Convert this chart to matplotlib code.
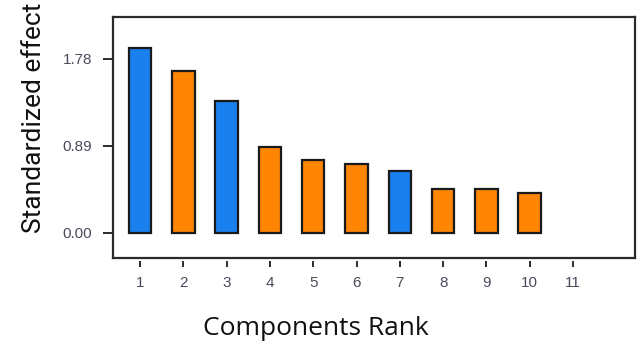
import matplotlib.pyplot as plt

# component ranks and their standardized effects
ranks = [1, 2, 3, 4, 5, 6, 7, 8, 9, 10]
effects = [1.89, 1.65, 1.35, 0.88, 0.75, 0.70, 0.63, 0.45, 0.45, 0.41]
groups = ["B", "A", "B", "A", "A", "A", "B", "A", "A", "A"]
xticks = list(range(1, 12))
yticks = [0.00, 0.89, 1.78]

palette = {"A": "#ff8505", "B": "#1a80ee"}

fig = plt.figure(figsize=(6.41, 3.45), dpi=100)
ax = fig.add_axes([0.1763, 0.2522, 0.8143, 0.6994])

ax.bar(ranks, effects, width=0.52, color=[palette[g] for g in groups],
       edgecolor="#1a1a1a", linewidth=1.6, zorder=2)

ax.set_xlim(0.376, 12.43)
ax.set_ylim(-0.256, 2.21)

for s in ax.spines.values():
    s.set_linewidth(1.6)
    s.set_color("#2a2a2a")

tick_font = {"family": "Liberation Sans", "size": 11}

# y axis
ax.set_yticks(yticks)
ax.set_yticklabels([f"{v:.2f}" for v in yticks], fontdict=tick_font)
ax.tick_params(axis="y", direction="out", length=7, width=1.4, pad=8,
               colors="#2a2a2a", labelcolor="#4a4a5c")

# x axis: ticks sit slightly below the frame
ax.set_xticks([])
sec = ax.secondary_xaxis(-0.013)
sec.set_xticks(xticks)
sec.set_xticklabels([str(v) for v in xticks], fontdict=tick_font)
sec.spines["bottom"].set_visible(False)
sec.tick_params(axis="x", direction="out", length=4.5, width=1.4, pad=6,
                colors="#2a2a2a", labelcolor="#4a4a5c")

fig.text(0.053, 0.659, "Standardized effect", rotation=90, ha="center",
         va="center", fontsize=19, family=["Roboto", "DejaVu Sans"],
         color="#111111")
fig.text(0.493, 0.047, "Components Rank", ha="center", va="center",
         fontsize=19, family=["Open Sans", "DejaVu Sans"], color="#111111")

fig.savefig("out.png", dpi=100)
